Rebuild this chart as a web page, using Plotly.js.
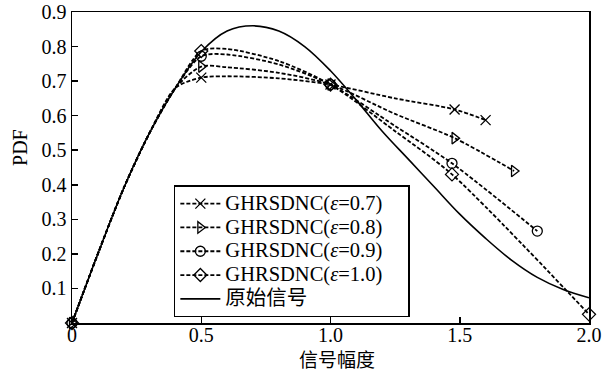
<!DOCTYPE html>
<html>
<head>
<meta charset="utf-8">
<script src="https://cdn.plot.ly/plotly-3.0.1.min.js"></script>
<style>html,body{margin:0;padding:0;background:#fff;}#chart{width:602px;height:374px;}</style>
</head>
<body>
<div id="chart"></div>
<script>
// Original signal (solid curve)
var xSolid = [0, 0.1, 0.2, 0.3, 0.4, 0.5, 0.6, 0.7, 0.8, 0.9, 1.0, 1.1, 1.2, 1.3, 1.4, 1.5, 1.6, 1.7, 1.8, 1.9, 2.0];
var ySolid = [0, 0.2, 0.39, 0.55, 0.68, 0.785, 0.845, 0.86, 0.845, 0.80, 0.73, 0.645, 0.555, 0.475, 0.395, 0.315, 0.245, 0.182, 0.132, 0.097, 0.073];

// GHRSDNC series (1 = point drawn with a marker)
var xE07 = [0, 0.1, 0.2, 0.3, 0.4, 0.5, 0.6, 0.8, 1.0, 1.25, 1.48, 1.6];
var yE07 = [0, 0.2, 0.39, 0.55, 0.68, 0.71, 0.714, 0.708, 0.69, 0.65, 0.618, 0.587];
var mE07 = [1, 0, 0, 0, 0, 1, 0, 0, 1, 0, 1, 1];

var xE08 = [0, 0.1, 0.2, 0.3, 0.4, 0.5, 0.6, 0.8, 1.0, 1.25, 1.48, 1.71];
var yE08 = [0, 0.2, 0.39, 0.55, 0.68, 0.742, 0.74, 0.724, 0.69, 0.605, 0.535, 0.44];
var mE08 = [1, 0, 0, 0, 0, 1, 0, 0, 1, 0, 1, 1];

var xE09 = [0, 0.1, 0.2, 0.3, 0.4, 0.5, 0.6, 0.8, 1.0, 1.25, 1.47, 1.8];
var yE09 = [0, 0.2, 0.39, 0.55, 0.68, 0.772, 0.777, 0.748, 0.69, 0.57, 0.462, 0.266];
var mE09 = [1, 0, 0, 0, 0, 1, 0, 0, 1, 0, 1, 1];

var xE10 = [0, 0.1, 0.2, 0.3, 0.4, 0.5, 0.6, 0.8, 1.0, 1.25, 1.47, 2.0];
var yE10 = [0, 0.2, 0.39, 0.55, 0.68, 0.787, 0.793, 0.758, 0.69, 0.555, 0.43, 0.025];
var mE10 = [1, 0, 0, 0, 0, 1, 0, 0, 1, 0, 1, 1];

var seriesNames = ['GHRSDNC(<i>ε</i>=0.7)', 'GHRSDNC(<i>ε</i>=0.8)', 'GHRSDNC(<i>ε</i>=0.9)', 'GHRSDNC(<i>ε</i>=1.0)'];
var solidName = '原始信号';
var xTickVals = [0, 0.5, 1.0, 1.5, 2.0];
var xTickText = ['0', '0.5', '1.0', '1.5', '2.0'];
var yTickVals = [0.1, 0.2, 0.3, 0.4, 0.5, 0.6, 0.7, 0.8, 0.9];
var yTickText = ['0.1', '0.2', '0.3', '0.4', '0.5', '0.6', '0.7', '0.8', '0.9'];
var xTitle = '信号幅度';
var yTitle = 'PDF';

var serif = 'Liberation Serif, Times New Roman, Noto Sans CJK SC, serif';
var symbols = ['x-thin-open', 'triangle-right-open', 'circle-open', 'diamond-open'];
var xs = [xE07, xE08, xE09, xE10], ys = [yE07, yE08, yE09, yE10], ms = [mE07, mE08, mE09, mE10];

function legendLabel(s) {
  return '<span style="font-size:20.5px">' + s + '\u00A0\u00A0\u00A0\u00A0</span>';
}

var traces = [];
for (var i = 0; i < 4; i++) {
  traces.push({
    x: xs[i], y: ys[i], name: legendLabel(seriesNames[i]), type: 'scatter', mode: 'lines+markers',
    line: {color: '#000', width: 1.8, dash: '4px,2px', shape: 'spline', smoothing: 0.8},
    marker: {
      symbol: symbols[i], size: 10,
      color: ms[i].map(function (m) { return m ? '#000' : 'rgba(0,0,0,0)'; }),
      line: {width: 1.3}
    },
    cliponaxis: false
  });
}
traces.push({
  x: xSolid, y: ySolid, name: legendLabel(solidName), type: 'scatter', mode: 'lines',
  line: {color: '#000', width: 1.6, shape: 'spline', smoothing: 1},
  cliponaxis: false
});

var layout = {
  width: 602, height: 374,
  margin: {l: 72, r: 13, t: 12, b: 51},
  paper_bgcolor: '#fff', plot_bgcolor: '#fff',
  font: {family: serif, size: 20, color: '#000'},
  showlegend: true,
  legend: {
    x: 0.197, y: 0.443, xanchor: 'left', yanchor: 'top',
    bgcolor: '#fff', bordercolor: '#000', borderwidth: 1.5,
    font: {family: serif, size: 16, color: '#000'},
    itemwidth: 40,
    tracegroupgap: 0
  },
  xaxis: {
    range: [0, 2.0], tickvals: xTickVals, ticktext: xTickText,
    ticks: 'inside', ticklen: 6, tickwidth: 1.5, tickcolor: '#000',
    ticklabelstandoff: -7,
    showline: true, linecolor: '#000', linewidth: 1.5, mirror: true,
    showgrid: false, zeroline: false,
    tickfont: {family: serif, size: 20, color: '#000'}
  },
  yaxis: {
    range: [0, 0.9], tickvals: yTickVals, ticktext: yTickText,
    ticks: 'inside', ticklen: 6, tickwidth: 1.5, tickcolor: '#000',
    showline: true, linecolor: '#000', linewidth: 1.5, mirror: true,
    showgrid: false, zeroline: false,
    tickfont: {family: serif, size: 20, color: '#000'}
  },
  annotations: [
    {text: yTitle, xref: 'paper', yref: 'paper', x: -0.1006, y: 0.566, textangle: -90,
     showarrow: false, xanchor: 'center', yanchor: 'middle',
     font: {family: serif, size: 20, color: '#000'}},
    {text: xTitle, xref: 'paper', yref: 'paper', x: 0.5126, y: -0.113,
     showarrow: false, xanchor: 'center', yanchor: 'middle',
     font: {family: 'Noto Sans CJK SC, sans-serif', size: 19, color: '#000'}}
  ]
};

Plotly.newPlot('chart', traces, layout, {displayModeBar: false, staticPlot: true});
</script>
</body>
</html>
